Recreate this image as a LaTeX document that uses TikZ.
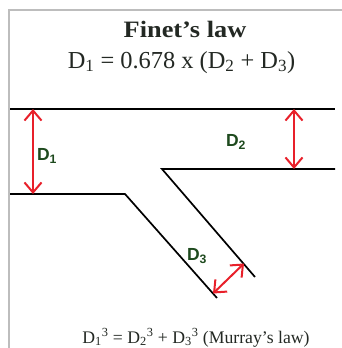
\documentclass[tikz,border=0pt]{standalone}
\usepackage{fontspec}
\usepackage{graphicx}
\setmainfont{Liberation Serif}
\newfontfamily\labelfont{Liberation Sans}
\usetikzlibrary{arrows.meta}
\definecolor{framegray}{HTML}{BDBDBD}
\definecolor{arrowred}{HTML}{E8202A}
\definecolor{labelgreen}{HTML}{1E4A1E}
\definecolor{textdark}{HTML}{232823}
\tikzset{
  framel/.style={draw=framegray, line width=1.8pt},
  pipel/.style={draw=black, line width=1.7pt},
  dimarrow/.style={draw=arrowred, line width=2pt,
    {Straight Barb[length=10pt,width=17pt,line width=2pt]}-{Straight Barb[length=10pt,width=17pt,line width=2pt]}},
  dlabel/.style={text=labelgreen, font=\labelfont\bfseries\fontsize{17.5}{20}\selectfont, inner sep=0pt},
  eqtext/.style={text=textdark, inner sep=0pt, anchor=base}
}
\begin{document}
\begin{tikzpicture}[x=1pt,y=-1pt]
\useasboundingbox (0,0) rectangle (342,348);
\draw[framel] (9,348) -- (9,10) -- (342,10);
% pipe coordinates
\coordinate (tl) at (10,109);
\coordinate (tr) at (335,109);
\coordinate (bl) at (10,194);
\coordinate (bk) at (125,194);
\coordinate (be) at (217,298);
\coordinate (uk) at (162,169);
\coordinate (ur) at (335,169);
\coordinate (ue) at (255,277);
\draw[pipel] (tl) -- (tr);
\draw[pipel] (bl) -- (bk) -- (be);
\draw[pipel] (ue) -- (uk) -- (ur);
% dimension arrows
\coordinate (d1a) at (33,109);
\coordinate (d1b) at (33,194);
\coordinate (d2a) at (294,109);
\coordinate (d2b) at (294,169);
\coordinate (d3a) at (213,293.5);
\coordinate (d3b) at (244,263.5);
\draw[dimarrow] (d1a) -- (d1b);
\draw[dimarrow] (d2a) -- (d2b);
\draw[dimarrow] (d3a) -- (d3b);
% labels
\node[dlabel] (l1) at (47,156) {D\textsubscript{1}};
\node[dlabel] (l2) at (236,142) {D\textsubscript{2}};
\node[dlabel] (l3) at (197,256) {D\textsubscript{3}};
% equations
\node[eqtext, font=\bfseries\fontsize{23.5}{27}\selectfont] (title) at (185,37.7) {\scalebox{1.12}[1]{Finet’s law}};
\node[eqtext, font=\fontsize{24.4}{28}\selectfont] (finet) at (181.5,68) {D\textsubscript{1} = 0.678 x (D\textsubscript{2} + D\textsubscript{3})};
\node[eqtext, font=\fontsize{17.7}{21}\selectfont] (murray) at (196,343) {D\textsubscript{1}\textsuperscript{3} = D\textsubscript{2}\textsuperscript{3} + D\textsubscript{3}\textsuperscript{3} (Murray’s law)};
\end{tikzpicture}
\end{document}
